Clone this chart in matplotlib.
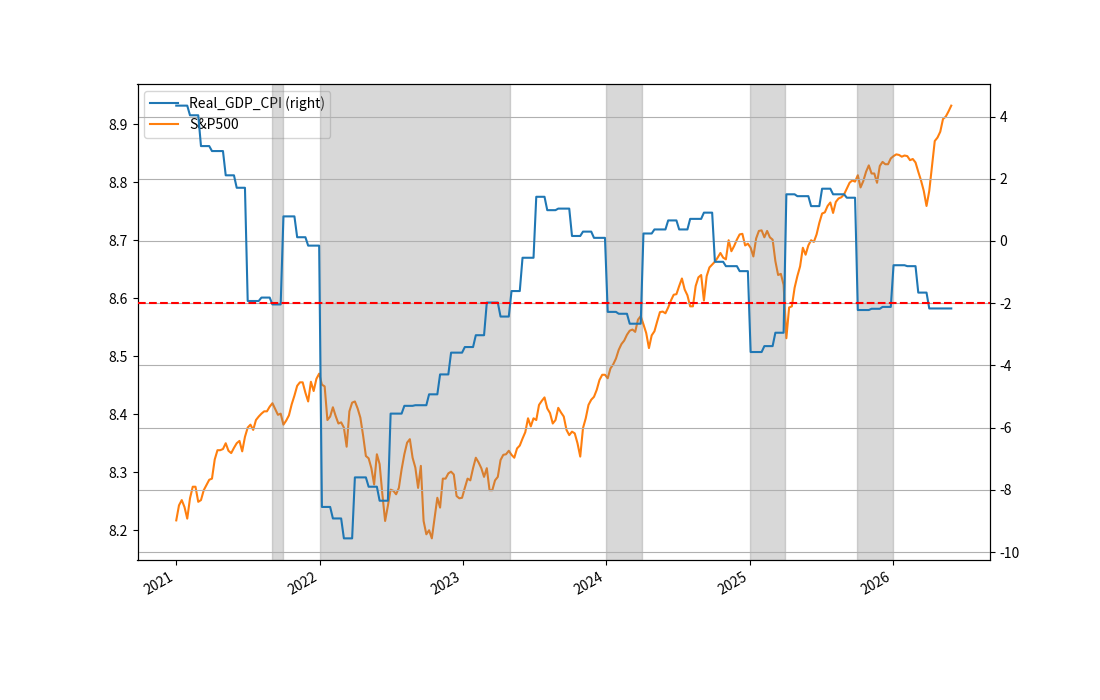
import numpy as np
import pandas as pd
import matplotlib
matplotlib.use('Agg')
import matplotlib.pyplot as plt

plt.rcParams['font.family'] = ['Noto Sans CJK KR', 'DejaVu Sans']
plt.rcParams['axes.unicode_minus'] = False

# S&P500 (log), weekly from 2021-01-01
sp500 = [
    8.217, 8.243, 8.252, 8.240, 8.220, 8.255, 8.275, 8.275, 8.249, 8.252,
    8.269, 8.278, 8.287, 8.289, 8.322, 8.338, 8.338, 8.340, 8.350, 8.337,
    8.333, 8.342, 8.350, 8.354, 8.336, 8.361, 8.377, 8.382, 8.373, 8.390,
    8.396, 8.401, 8.405, 8.405, 8.413, 8.419, 8.409, 8.399, 8.401, 8.382,
    8.389, 8.398, 8.417, 8.432, 8.449, 8.455, 8.455, 8.437, 8.422, 8.456,
    8.440, 8.461, 8.470, 8.451, 8.448, 8.390, 8.396, 8.412, 8.397, 8.384,
    8.386, 8.377, 8.344, 8.405, 8.420, 8.422, 8.410, 8.394, 8.363, 8.328,
    8.324, 8.307, 8.279, 8.331, 8.314, 8.262, 8.216, 8.242, 8.270, 8.268,
    8.262, 8.273, 8.305, 8.331, 8.351, 8.357, 8.325, 8.308, 8.273, 8.311,
    8.216, 8.193, 8.200, 8.186, 8.221, 8.256, 8.239, 8.289, 8.289, 8.298,
    8.301, 8.296, 8.259, 8.255, 8.256, 8.273, 8.289, 8.286, 8.307, 8.325,
    8.317, 8.307, 8.292, 8.307, 8.269, 8.269, 8.286, 8.292, 8.321, 8.330,
    8.331, 8.337, 8.330, 8.325, 8.341, 8.346, 8.358, 8.369, 8.393, 8.379,
    8.393, 8.390, 8.416, 8.423, 8.429, 8.410, 8.402, 8.384, 8.390, 8.411,
    8.403, 8.396, 8.373, 8.364, 8.370, 8.367, 8.350, 8.327, 8.376, 8.393,
    8.416, 8.425, 8.430, 8.442, 8.459, 8.468, 8.468, 8.462, 8.479, 8.486,
    8.496, 8.511, 8.521, 8.527, 8.537, 8.544, 8.546, 8.542, 8.563, 8.569,
    8.555, 8.540, 8.514, 8.536, 8.543, 8.560, 8.576, 8.577, 8.574, 8.584,
    8.596, 8.606, 8.607, 8.621, 8.634, 8.615, 8.605, 8.586, 8.586, 8.621,
    8.636, 8.640, 8.596, 8.638, 8.653, 8.658, 8.663, 8.670, 8.678, 8.670,
    8.667, 8.700, 8.681, 8.690, 8.701, 8.710, 8.711, 8.691, 8.694, 8.687,
    8.672, 8.703, 8.716, 8.717, 8.705, 8.716, 8.705, 8.701, 8.664, 8.640,
    8.642, 8.623, 8.531, 8.584, 8.586, 8.618, 8.638, 8.655, 8.687, 8.675,
    8.691, 8.700, 8.697, 8.710, 8.730, 8.746, 8.748, 8.759, 8.765, 8.747,
    8.766, 8.772, 8.774, 8.779, 8.789, 8.799, 8.803, 8.801, 8.812, 8.791,
    8.802, 8.818, 8.829, 8.815, 8.815, 8.799, 8.828, 8.835, 8.831, 8.831,
    8.841, 8.845, 8.848, 8.847, 8.844, 8.846, 8.845, 8.838, 8.840, 8.834,
    8.818, 8.803, 8.785, 8.759, 8.785, 8.828, 8.871, 8.877, 8.887, 8.909,
    8.913, 8.922, 8.932,
]

# Real_GDP_CPI, monthly from 2021-01
gdp_cpi = [
    4.35, 4.04, 3.05, 2.89, 2.11, 1.71, -1.93, -1.82, -2.04, 0.79, 0.12, -0.15,
    -8.55, -8.92, -9.56, -7.60, -7.90, -8.35, -5.55, -5.30, -5.28, -4.93, -4.29, -3.59,
    -3.41, -3.03, -1.98, -2.43, -1.61, -0.54, 1.42, 0.99, 1.04, 0.16, 0.30, 0.10,
    -2.28, -2.34, -2.66, 0.24, 0.37, 0.66, 0.37, 0.71, 0.91, -0.67, -0.81, -0.97,
    -3.57, -3.38, -2.95, 1.50, 1.44, 1.12, 1.68, 1.50, 1.39, -2.22, -2.18, -2.12,
    -0.78, -0.81, -1.66, -2.17, -2.17,
]

# shaded periods
span_start = ['2021-09-01', '2022-01-01', '2024-01-01', '2025-01-01', '2025-10-01']
span_end = ['2021-10-01', '2023-05-01', '2024-04-01', '2025-04-01', '2026-01-01']

threshold = -2

weeks = pd.date_range('2021-01-01', periods=len(sp500), freq='W-FRI')
months = pd.date_range('2021-01-01', periods=len(gdp_cpi), freq='MS')
gdp_weekly = pd.Series(gdp_cpi, index=months).reindex(weeks, method='ffill')

fig, ax1 = plt.subplots(figsize=(11, 7), dpi=100)
ax2 = ax1.twinx()

l_sp, = ax1.plot(weeks, sp500, color='C1', label='S&P500')
l_gdp, = ax2.plot(weeks, gdp_weekly.values, color='C0', label='Real_GDP_CPI (right)')

for s, e in zip(span_start, span_end):
    ax2.axvspan(pd.Timestamp(s), pd.Timestamp(e), color='gray', alpha=0.3)

ax2.axhline(threshold, color='red', linestyle='--', zorder=3)
ax2.grid(axis='y')

ax1.legend(handles=[l_gdp, l_sp], loc='upper left')

fig.autofmt_xdate()
fig.savefig('out.png')
